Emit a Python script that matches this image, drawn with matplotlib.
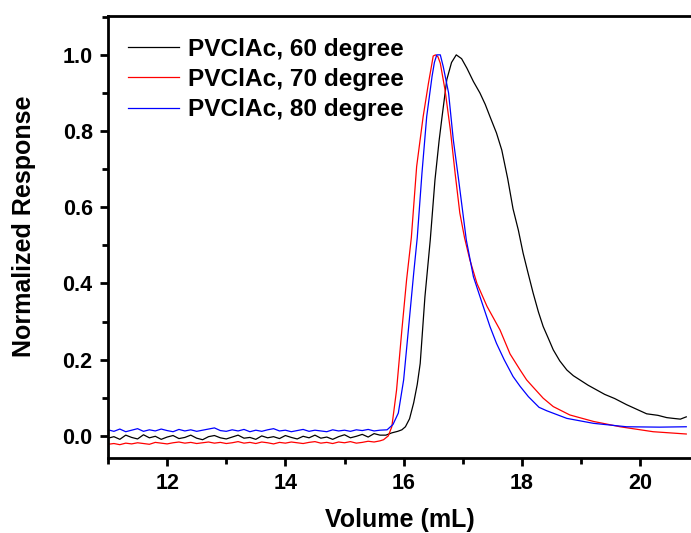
import numpy as np
import matplotlib.pyplot as plt
from matplotlib.ticker import MultipleLocator

plt.rcParams['font.family'] = ['Liberation Sans', 'DejaVu Sans']
plt.rcParams['font.weight'] = 'bold'

labels = ['PVClAc, 60 degree', 'PVClAc, 70 degree', 'PVClAc, 80 degree']
colors = ['black', 'red', 'blue']

# flat part before the peaks (read at 0.1 mL steps, noise by eye)
base_x = np.round(np.arange(11.0, 15.65, 0.1), 2)
base_60 = [-0.006, -0.002, -0.009, 0.002, -0.004, -0.008, 0.003, -0.005, -0.001, -0.009,
           -0.003, 0.001, -0.007, -0.004, 0.002, -0.006, -0.010, -0.002, 0.001, -0.005,
           -0.008, -0.003, 0.002, -0.006, -0.004, -0.009, 0.000, -0.005, -0.002, -0.007,
           0.001, -0.004, -0.008, -0.001, -0.005, 0.002, -0.006, -0.003, -0.009, -0.002,
           0.003, -0.005, -0.001, 0.004, -0.003, 0.006, 0.002]
base_70 = [-0.022, -0.020, -0.023, -0.019, -0.021, -0.018, -0.020, -0.022, -0.017, -0.019,
           -0.021, -0.018, -0.016, -0.019, -0.017, -0.020, -0.018, -0.016, -0.019, -0.017,
           -0.020, -0.018, -0.015, -0.019, -0.017, -0.020, -0.016, -0.018, -0.021, -0.017,
           -0.019, -0.016, -0.018, -0.020, -0.017, -0.015, -0.019, -0.017, -0.020, -0.016,
           -0.018, -0.015, -0.019, -0.017, -0.014, -0.016, -0.013]
base_80 = [0.016, 0.012, 0.018, 0.011, 0.015, 0.019, 0.012, 0.016, 0.013, 0.018,
           0.014, 0.011, 0.017, 0.013, 0.016, 0.012, 0.015, 0.018, 0.021, 0.014,
           0.012, 0.016, 0.013, 0.017, 0.011, 0.015, 0.012, 0.016, 0.019, 0.013,
           0.015, 0.011, 0.014, 0.017, 0.012, 0.015, 0.013, 0.011, 0.016, 0.013,
           0.015, 0.012, 0.016, 0.014, 0.017, 0.013, 0.015]

# peak and tail
peak_x_60 = [15.7, 15.8, 15.9, 15.97, 16.03, 16.10, 16.17, 16.23, 16.28, 16.36, 16.45, 16.53,
             16.60, 16.65, 16.73, 16.81, 16.89, 16.98, 17.07, 17.18, 17.29, 17.38, 17.46,
             17.57, 17.66, 17.76, 17.85, 17.94, 18.02, 18.10, 18.19, 18.28, 18.36, 18.45,
             18.53, 18.64, 18.76, 18.87, 18.98, 19.12, 19.26, 19.40, 19.57, 19.77, 19.94,
             20.11, 20.30, 20.45, 20.56, 20.68, 20.78]
peak_y_60 = [0.002, 0.008, 0.012, 0.016, 0.024, 0.045, 0.087, 0.135, 0.19, 0.365, 0.514, 0.672,
             0.775, 0.838, 0.935, 0.98, 1.0, 0.99, 0.965, 0.93, 0.90, 0.87, 0.838,
             0.795, 0.75, 0.675, 0.596, 0.54, 0.48, 0.43, 0.375, 0.325, 0.287, 0.255,
             0.226, 0.197, 0.173, 0.158, 0.147, 0.133, 0.121, 0.109, 0.098, 0.082, 0.07,
             0.058, 0.054, 0.048, 0.046, 0.044, 0.05]
peak_x_70 = [15.66, 15.74, 15.80, 15.88, 15.97, 16.05, 16.13, 16.22, 16.33, 16.42, 16.47, 16.50,
             16.54, 16.58, 16.62, 16.70, 16.79, 16.87, 16.95, 17.03, 17.12, 17.24, 17.41,
             17.63, 17.80, 17.97, 18.08, 18.19, 18.36, 18.53, 18.81, 19.21, 19.66, 20.22,
             20.50, 20.78]
peak_y_70 = [-0.01, 0.0, 0.024, 0.12, 0.278, 0.41, 0.52, 0.707, 0.838, 0.926, 0.97, 0.997,
             1.0, 0.995, 0.978, 0.908, 0.803, 0.69, 0.585, 0.52, 0.462, 0.40, 0.34,
             0.278, 0.215, 0.173, 0.147, 0.128, 0.099, 0.077, 0.055, 0.038, 0.024, 0.011,
             0.008, 0.005]
peak_x_80 = [15.72, 15.82, 15.91, 16.0, 16.08, 16.17, 16.23, 16.31, 16.39, 16.48, 16.52, 16.56,
             16.62, 16.67, 16.76, 16.84, 16.93, 17.06, 17.18, 17.29, 17.46, 17.57, 17.70,
             17.85, 17.97, 18.11, 18.29, 18.42, 18.76, 19.21, 19.77, 20.33, 20.78]
peak_y_80 = [0.016, 0.03, 0.06, 0.147, 0.278, 0.427, 0.52, 0.69, 0.838, 0.943, 0.98, 1.0,
             1.0, 0.969, 0.90, 0.777, 0.672, 0.514, 0.418, 0.366, 0.287, 0.243, 0.2,
             0.156, 0.13, 0.103, 0.075, 0.066, 0.046, 0.033, 0.024, 0.023, 0.024]

series = [
    (list(base_x) + peak_x_60, base_60 + peak_y_60),
    (list(base_x) + peak_x_70, base_70 + peak_y_70),
    (list(base_x) + peak_x_80, base_80 + peak_y_80),
]

fig = plt.figure(figsize=(6.91, 5.33), dpi=100)
ax = fig.add_axes([0.1563, 0.1407, 0.8437, 0.8293])

for (x, y), c, lab in zip(series, colors, labels):
    ax.plot(x, y, color=c, lw=0.9, label=lab)

ax.set_xlim(11, 20.86)
ax.set_ylim(-0.058, 1.102)
ax.xaxis.set_major_locator(MultipleLocator(2))
ax.xaxis.set_minor_locator(MultipleLocator(1))
ax.yaxis.set_major_locator(MultipleLocator(0.2))
ax.yaxis.set_minor_locator(MultipleLocator(0.1))
ax.yaxis.set_major_formatter(plt.FormatStrFormatter('%.1f'))

ax.spines['right'].set_visible(False)
for s in ['left', 'bottom', 'top']:
    ax.spines[s].set_linewidth(2)
ax.tick_params(which='major', direction='out', length=6, width=2, labelsize=15.5, pad=5)
ax.tick_params(which='minor', direction='out', length=4, width=2)
ax.tick_params(top=False, which='both')

ax.set_xlabel('Volume (mL)', fontsize=18, fontweight='bold', labelpad=10)
ax.set_ylabel('Normalized Response', fontsize=18, fontweight='bold')
ax.yaxis.set_label_coords(-0.123, 0.525)

ax.legend(loc='upper left', bbox_to_anchor=(0.034, 0.951), frameon=False,
          fontsize=17.6, handlelength=2.1, handletextpad=0.35, labelspacing=0.3,
          borderpad=0, borderaxespad=0)

fig.savefig('out.png', dpi=100)
